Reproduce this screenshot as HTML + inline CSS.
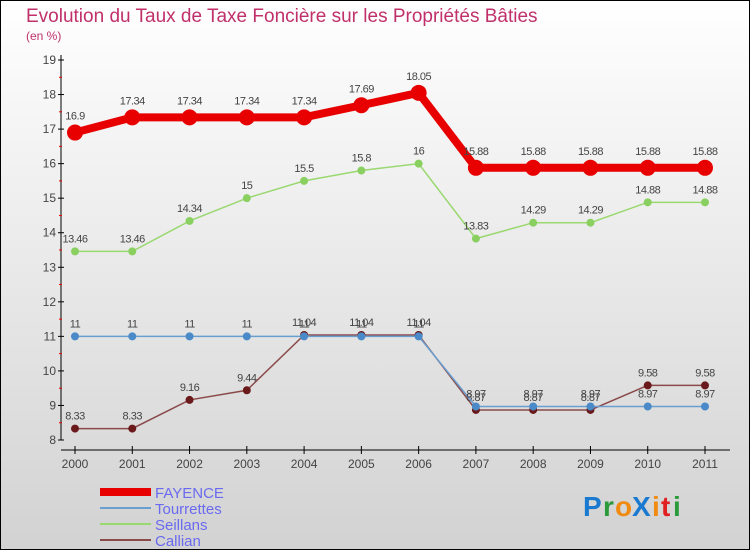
<!DOCTYPE html>
<html><head><meta charset="utf-8"><style>
body{margin:0}
svg{display:block}
text{font-family:"Liberation Sans",sans-serif}
</style></head><body>
<svg id="c" width="750" height="550" xmlns="http://www.w3.org/2000/svg">
<defs><linearGradient id="bg" x1="0" y1="0" x2="0" y2="1"><stop offset="0" stop-color="#ffffff"/><stop offset="1" stop-color="#d2d2d2"/></linearGradient></defs>
<rect x="0.5" y="0.5" width="749" height="549" fill="url(#bg)" stroke="#000"/>
<text x="26" y="22" font-size="19" fill="#c0306a">Evolution du Taux de Taxe Foncière sur les Propriétés Bâties</text>
<text x="26" y="40" font-size="12" fill="#c0306a">(en %)</text>
<g id="axes"></g><g id="series"></g><g id="legend"></g>
<g font-size="28" font-weight="bold">
<text x="583" y="516" fill="#1a7ad0">P</text><text x="603" y="516" fill="#2a9a3a">r</text><text x="615" y="516" fill="#f08a10">o</text><text x="632" y="516" fill="#1a7ad0">X</text><text x="652" y="516" fill="#f08a10">i</text><text x="661" y="516" fill="#e02020">t</text><text x="673" y="516" fill="#2a9a3a">i</text></g>
</svg>
<script>
const years=["2000","2001","2002","2003","2004","2005","2006","2007","2008","2009","2010","2011"];
const yTicks=[8,9,10,11,12,13,14,15,16,17,18,19];
const fayence=[16.9,17.34,17.34,17.34,17.34,17.69,18.05,15.88,15.88,15.88,15.88,15.88];
const tourrettes=[11,11,11,11,11,11,11,8.97,8.97,8.97,8.97,8.97];
const seillans=[13.46,13.46,14.34,15,15.5,15.8,16,13.83,14.29,14.29,14.88,14.88];
const callian=[8.33,8.33,9.16,9.44,11.04,11.04,11.04,8.87,8.87,8.87,9.58,9.58];
const NS="http://www.w3.org/2000/svg";
const X=i=>75+i*(630/11);
const Y=v=>440-(v-8)*(380/11);
function mk(t,a,p){const e=document.createElementNS(NS,t);for(const k in a)e.setAttribute(k,a[k]);p.appendChild(e);return e;}
const ax=document.getElementById('axes');
let l=mk('line',{x1:61,y1:55,x2:61,y2:440,stroke:'#000'},ax);


l=mk('line',{x1:61,y1:450,x2:730,y2:450,stroke:'#000'},ax);


yTicks.forEach(v=>{
 mk('line',{x1:58,y1:Y(v),x2:64,y2:Y(v),stroke:'#000'},ax);
 if(v<19)mk('line',{x1:59,y1:Y(v+0.5),x2:62,y2:Y(v+0.5),stroke:'#e00'},ax);
 const t=mk('text',{x:56,y:Y(v)+4,'font-size':12,fill:'#444','text-anchor':'end'},ax);t.textContent=v;
 
 
});
years.forEach((y,i)=>{
 mk('line',{x1:X(i),y1:446,x2:X(i),y2:454,stroke:'#000'},ax);
 const t=mk('text',{x:X(i),y:468,'font-size':12,fill:'#444','text-anchor':'middle'},ax);t.textContent=y;
 
 
});
const sg=document.getElementById('series');
const defs=[
 {d:callian,c:'#8a4a4a',pc:'#6a1a1a',w:1.5,r:4,n:'callian'},
 {d:tourrettes,c:'#6a9ed0',pc:'#4a8ac8',w:1.5,r:4,n:'tourrettes'},
 {d:seillans,c:'#9ad870',pc:'#8ad060',w:1.5,r:4,n:'seillans'},
 {d:fayence,c:'#e80000',pc:'#e80000',w:8,r:8,n:'fayence'}];
defs.forEach(s=>{
 const g=mk('g',{},sg);
 
 
 const p=mk('polyline',{points:s.d.map((v,i)=>X(i)+','+Y(v)).join(' '),fill:'none',stroke:s.c,'stroke-width':s.w},g);
 
 
 s.d.forEach((v,i)=>{
  const c=mk('circle',{cx:X(i),cy:Y(v),r:s.r,fill:s.pc},g);
  
  
  const t=mk('text',{x:X(i),y:Y(v)-(s.r+5),'font-size':11,fill:'#444','text-anchor':'middle','letter-spacing':'-0.5'},g);
  t.textContent=String(v);
  
  
 });
});
const lg=document.getElementById('legend');
[['FAYENCE','#e80000',8],['Tourrettes','#6a9ed0',2],['Seillans','#9ad870',2],['Callian','#8a4a4a',2]].forEach((e,i)=>{
 const y=492+i*16;
 const g=mk('g',{},lg);
 
 
 mk('line',{x1:100,y1:y,x2:151,y2:y,stroke:e[1],'stroke-width':e[2]},g);
 const t=mk('text',{x:155,y:y+6,'font-size':15,fill:'#6a6af0'},g);t.textContent=e[0];
});
</script>
</body></html>
